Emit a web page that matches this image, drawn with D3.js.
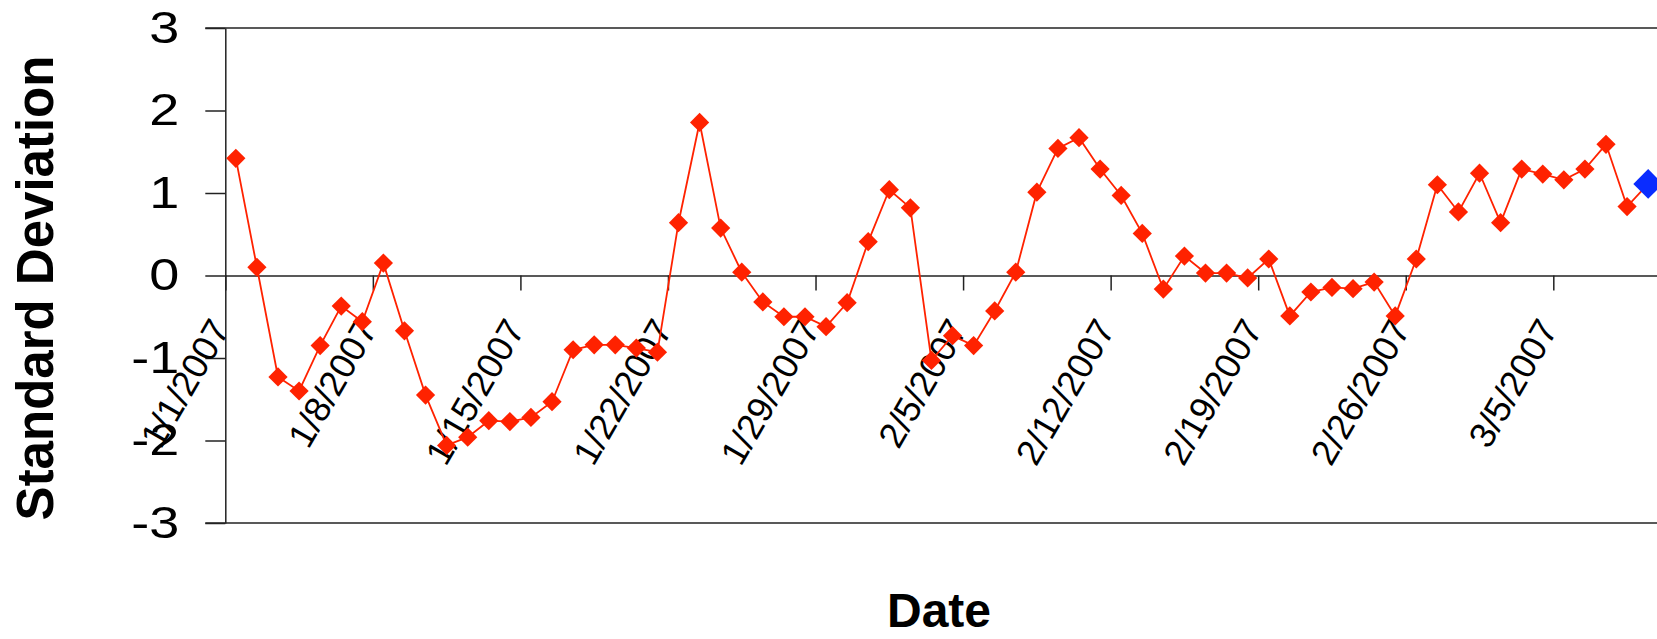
<!DOCTYPE html>
<html>
<head>
<meta charset="utf-8">
<script src="https://cdn.jsdelivr.net/npm/d3@7"></script>
<style>
  html, body { margin: 0; padding: 0; background: #ffffff; }
  svg { display: block; }
  text { font-family: "Liberation Sans", Arial, Helvetica, sans-serif; }
</style>
</head>
<body>
<svg id="chart" width="1657" height="639"></svg>
<script>
// ---- data ----
const startDate = "2007-01-01";
const endDate = "2007-03-10";           // axis end (exclusive day boundary)
const values = [
  1.42, 0.10, -1.23, -1.40, -0.85, -0.37, -0.56, 0.15, -0.67, -1.45, -2.06,
  -1.96, -1.76, -1.77, -1.72, -1.53, -0.90, -0.84, -0.84, -0.88, -0.93,
  0.64, 1.855, 0.575, 0.04, -0.32, -0.50, -0.50, -0.62, -0.33, 0.41, 1.04, 0.82, -1.03,
  -0.73, -0.85, -0.43, 0.04, 1.01, 1.54, 1.67, 1.29, 0.97, 0.51, -0.165,
  0.235, 0.03, 0.03, -0.03, 0.20, -0.49, -0.20, -0.145, -0.16, -0.08, -0.49,
  0.20, 1.10, 0.77, 1.24, 0.64, 1.29, 1.23, 1.16, 1.29, 1.59, 0.835, 1.11
];
const xTickLabels = ["1/1/2007","1/8/2007","1/15/2007","1/22/2007","1/29/2007",
                     "2/5/2007","2/12/2007","2/19/2007","2/26/2007","3/5/2007"];
const yTicks = [-3, -2, -1, 0, 1, 2, 3];
const yTitle = "Standard Deviation";
const xTitle = "Date";

// ---- setup ----
const parseISO = d3.utcParse("%Y-%m-%d");
const parseMDY = d3.utcParse("%m/%d/%Y");
const dates = d3.utcDay.range(parseISO(startDate), parseISO(endDate)).slice(0, values.length);
const data = values.map((v, i) => ({ date: dates[i], value: v, last: i === values.length - 1 }));
const tickDates = xTickLabels.map(s => parseMDY(s));

const svg = d3.select("#chart");
svg.append("rect").attr("width", 1657).attr("height", 639).attr("fill", "#ffffff");

const plotLeft = 225.3, plotRight = 1658.7, plotTop = 28, plotBottom = 523;
const x = d3.scaleUtc().domain([parseISO(startDate), parseISO(endDate)]).range([plotLeft, plotRight]);
const y = d3.scaleLinear().domain([-3, 3]).range([plotBottom, plotTop]);
const halfDay = (x(dates[1]) - x(dates[0])) / 2;
const cx = d => x(d.date) + halfDay;

// plot border (top / bottom)
[3, -3].forEach(v => {
  svg.append("line")
    .attr("x1", plotLeft - 20).attr("x2", 1657)
    .attr("y1", y(v)).attr("y2", y(v))
    .attr("stroke", "#222").attr("stroke-width", 1.5);
});

// y axis
const yAxis = svg.append("g")
  .attr("transform", `translate(${plotLeft},0)`)
  .call(d3.axisLeft(y).tickValues(yTicks).tickFormat(d3.format("d")).tickSizeInner(20).tickSizeOuter(0).tickPadding(28));
yAxis.select(".domain").attr("stroke", "#222").attr("stroke-width", 1.5);
yAxis.selectAll(".tick line").attr("stroke", "#222").attr("stroke-width", 1.5);
yAxis.selectAll(".tick text")
  .attr("font-size", 45).attr("fill", "#000")
  .style("font-family", "'Liberation Sans', Arial, sans-serif")
  .attr("x", 0)
  .attr("transform", "translate(-46,0) scale(1.2,1)")
  .text(d => d < 0 ? "-" + Math.abs(d) : String(d));

// x axis at zero
const xAxis = svg.append("g")
  .attr("transform", `translate(0,${y(0)})`)
  .call(d3.axisBottom(x).tickValues(tickDates).tickSizeInner(15).tickSizeOuter(0)
        .tickFormat((d, i) => xTickLabels[i]));
xAxis.select(".domain").attr("stroke", "#222").attr("stroke-width", 1.5);
xAxis.selectAll(".tick line").attr("stroke", "#222").attr("stroke-width", 1.5);
xAxis.selectAll(".tick text")
  .attr("font-size", 36).attr("fill", "#000")
  .style("font-family", "'Liberation Sans', Arial, sans-serif")
  .attr("text-anchor", "end")
  .attr("x", 0).attr("y", 0).attr("dy", "0.35em")
  .attr("transform", `translate(-6,47) rotate(-60)`);

// line
const line = d3.line().x(cx).y(d => y(d.value));
svg.append("path").datum(data)
  .attr("d", line)
  .attr("fill", "none")
  .attr("stroke", "#ff2200")
  .attr("stroke-width", 1.8);

// markers
svg.append("g").selectAll("path.marker").data(data).join("path")
  .attr("class", "marker")
  .attr("d", d => d3.symbol().type(d3.symbolSquare).size(d.last ? 440 : 185)())
  .attr("transform", d => `translate(${cx(d)},${y(d.value)}) rotate(45)`)
  .attr("fill", d => d.last ? "#0a2cff" : "#ff2200");

// axis titles
svg.append("text")
  .attr("transform", `translate(53,288) rotate(-90)`)
  .attr("text-anchor", "middle")
  .attr("font-size", 51).attr("font-weight", "bold").attr("fill", "#000")
  .text(yTitle);
svg.append("text")
  .attr("x", 939).attr("y", 627)
  .attr("text-anchor", "middle")
  .attr("font-size", 48).attr("font-weight", "bold").attr("fill", "#000")
  .text(xTitle);
</script>
</body>
</html>
